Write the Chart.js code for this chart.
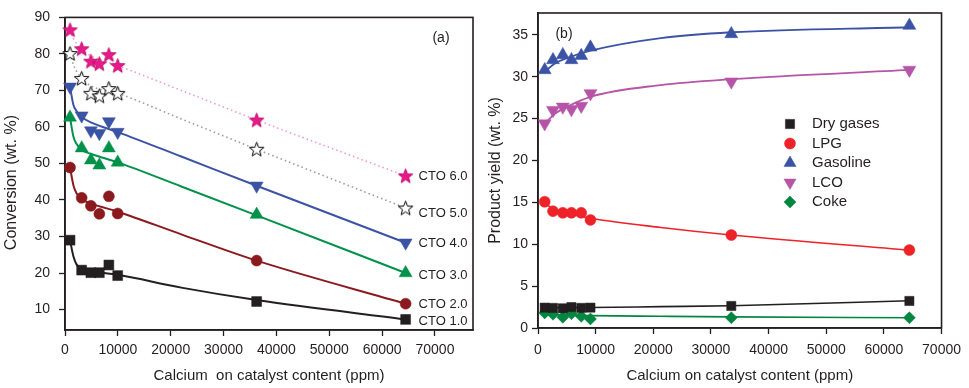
<!DOCTYPE html>
<html>
<head>
<meta charset="utf-8">
<script src="https://cdn.jsdelivr.net/npm/chart.js@4.4.1/dist/chart.umd.min.js"></script>
<style>
  html, body { margin: 0; padding: 0; background: #fff; }
  #wrap { position: relative; width: 969px; height: 388px; overflow: hidden; }
  canvas { position: absolute; top: 0; }
</style>
</head>
<body>
<div id="wrap">
  <canvas id="cA" width="484" height="388" style="left:0px"></canvas>
  <canvas id="cB" width="485" height="388" style="left:484px"></canvas>
</div>
<script>
// ---------------- Panel (a) data ----------------
const caA = [950, 3150, 4900, 6500, 8300, 9970, 36260, 64450];
const cto1 = [29.0, 20.8, 20.1, 20.1, 22.2, 19.3, 12.2, 7.3];
const cto2 = [48.9, 40.6, 38.4, 36.2, 41.0, 36.3, 23.4, 11.6];
const cto3 = [62.6, 54.2, 50.9, 49.5, 54.2, 50.3, 36.0, 20.0];
const cto4 = [71.0, 63.1, 59.0, 58.3, 61.5, 58.6, 43.9, 28.3];
const cto5 = [80.1, 73.3, 69.2, 68.5, 70.5, 69.2, 53.9, 37.8];
const cto6 = [86.6, 81.4, 78.0, 77.3, 79.8, 76.8, 61.9, 46.6];

// trend curves
const fitXA = [950, 1600, 2200, 3150, 5000, 10000, 22000, 36260, 64450];
const fit1 = [29.0, 24.5, 22.3, 21.2, 20.5, 19.5, 16.0, 12.6, 7.3];
const fit2 = [48.9, 44.0, 41.8, 40.2, 39.0, 36.8, 30.6, 23.4, 11.6];
const fit3 = [62.6, 57.3, 55.3, 53.7, 52.6, 50.3, 43.7, 35.8, 20.0];
const fit4 = [71.0, 66.0, 64.3, 62.7, 61.2, 58.6, 51.9, 43.9, 28.3];
const fit5 = [80.1, 77.0, 75.2, 73.3, 71.2, 69.2, 62.2, 53.9, 37.8];
const fit6 = [86.6, 84.2, 82.8, 81.2, 79.4, 76.8, 70.0, 61.9, 46.6];

const ctoLabels = ["CTO 1.0", "CTO 2.0", "CTO 3.0", "CTO 4.0", "CTO 5.0", "CTO 6.0"];
const ctoLabelValues = [6.8, 11.4, 19.3, 28.0, 36.4, 46.4];
const ticksYA = [10, 20, 30, 40, 50, 60, 70, 80, 90];
const ticksX = [0, 10000, 20000, 30000, 40000, 50000, 60000, 70000];

// ---------------- Panel (b) data ----------------
const caB = [1160, 2600, 4300, 5800, 7500, 9100, 33530, 64420];
const dryGases = [2.43, 2.40, 2.35, 2.50, 2.40, 2.43, 2.63, 3.23];
const lpg = [15.07, 13.95, 13.75, 13.75, 13.75, 12.9, 11.1, 9.3];
const gasoline = [30.8, 32.0, 32.6, 32.0, 32.5, 33.5, 35.1, 36.1];
const lco = [24.4, 26.0, 26.4, 26.1, 26.5, 28.0, 29.4, 30.8];
const coke = [1.80, 1.64, 1.28, 1.71, 1.40, 1.08, 1.23, 1.23];

const fitXB = [1160, 3000, 5000, 9100, 21300, 33530, 64420];
const fitDry = [2.40, 2.42, 2.43, 2.45, 2.55, 2.65, 3.25];
const fitLpg = [14.9, 14.1, 13.7, 13.1, 12.0, 11.1, 9.3];
const fitGas = [30.6, 31.6, 32.2, 33.1, 34.6, 35.3, 35.9];
const fitLco = [24.4, 25.6, 26.4, 27.6, 29.0, 29.7, 30.8];
const fitCoke = [1.60, 1.57, 1.54, 1.48, 1.40, 1.33, 1.22];

const seriesNamesB = ["Dry gases", "LPG", "Gasoline", "LCO", "Coke"];
const ticksYB = [0, 5, 10, 15, 20, 25, 30, 35];

// ---------------- styling ----------------
const FONT = "'Liberation Sans', Arial, sans-serif";
const INK = '#231F20';
const C_PINK = '#E8198B', C_BLUE = '#3A53A4', C_GREEN = '#00924A', C_DRED = '#8B1A1F';
const C_RED = '#EE2229', C_MAG = '#B654A8', C_COKE = '#00873F';

function zip(xs, ys) { return xs.map((x, i) => ({ x: x, y: ys[i] })); }

function starCanvas(fill, stroke) {
  const s = 17, c = document.createElement('canvas');
  c.width = s; c.height = s;
  const g = c.getContext('2d');
  const cx = s / 2, cy = s / 2 + 0.6, R = 7.6, r = 3.2;
  g.beginPath();
  for (let i = 0; i < 10; i++) {
    const a = -Math.PI / 2 + i * Math.PI / 5;
    const rr = i % 2 === 0 ? R : r;
    g.lineTo(cx + rr * Math.cos(a), cy + rr * Math.sin(a));
  }
  g.closePath();
  g.fillStyle = fill; g.fill();
  g.lineWidth = 1; g.strokeStyle = stroke; g.stroke();
  return c;
}
const starPink = starCanvas(C_PINK, '#C0106E');
const starWhite = starCanvas('#ffffff', '#000000');

const framePlugin = {
  id: 'frame',
  beforeDatasetsDraw(chart) {
    const a = chart.chartArea, ctx = chart.ctx;
    ctx.save();
    ctx.strokeStyle = INK; ctx.lineWidth = 1.6;
    ctx.strokeRect(a.left, a.top, a.right - a.left, a.bottom - a.top);
    ctx.restore();
  }
};

function dataSet(label, xs, ys, color, style, radius, extra) {
  return Object.assign({
    label: label, data: zip(xs, ys), showLine: false,
    pointStyle: style, pointRadius: radius, pointHoverRadius: radius,
    backgroundColor: color, borderColor: color, pointBorderWidth: 0.5,
    order: 0, clip: false
  }, extra || {});
}
function fitSet(xs, ys, color, width, dash) {
  return {
    label: '_fit', data: zip(xs, ys), showLine: true, pointRadius: 0,
    borderColor: color, borderWidth: width, borderDash: dash || [],
    cubicInterpolationMode: 'monotone', fill: false, order: 1, clip: false
  };
}

function axisCommon(fontSize) {
  return {
    grid: { display: true, drawOnChartArea: false, drawTicks: true, tickLength: 6, tickColor: INK, tickWidth: 1.3 },
    border: { display: true, color: INK, width: 1.6 },
    ticks: { color: INK, font: { family: FONT, size: fontSize }, callback: v => String(v) }
  };
}

// ---------------- Chart (a) ----------------
const labelPluginA = {
  id: 'labelsA',
  afterDatasetsDraw(chart) {
    const ctx = chart.ctx, xs = chart.scales.x, ys = chart.scales.y;
    ctx.save();
    ctx.fillStyle = INK;
    ctx.font = '13px ' + FONT;
    ctx.textBaseline = 'middle'; ctx.textAlign = 'left';
    const lx = xs.getPixelForValue(caA[caA.length - 1]) + 13;
    ctoLabels.forEach((t, i) => ctx.fillText(t, lx, ys.getPixelForValue(ctoLabelValues[i])));
    ctx.font = '14px ' + FONT; ctx.textAlign = 'center';
    ctx.fillText('(a)', chart.chartArea.right - 32, chart.chartArea.top + 21);
    ctx.restore();
  }
};

const axA = axisCommon(14);
const axAy = axisCommon(14);
new Chart(document.getElementById('cA'), {
  type: 'scatter',
  data: {
    datasets: [
      dataSet('CTO 6.0', caA, cto6, C_PINK, starPink, 7),
      dataSet('CTO 5.0', caA, cto5, '#fff', starWhite, 7),
      dataSet('CTO 4.0', caA, cto4, C_BLUE, 'triangle', 7.5, { rotation: 180 }),
      dataSet('CTO 3.0', caA, cto3, C_GREEN, 'triangle', 7.5),
      dataSet('CTO 2.0', caA, cto2, C_DRED, 'circle', 5.5),
      dataSet('CTO 1.0', caA, cto1, INK, 'rect', 7),
      fitSet(fitXA, fit6, '#F29AC8', 1.6, [1.5, 3]),
      fitSet(fitXA, fit5, '#9B9B9B', 1.6, [1.5, 3]),
      fitSet(fitXA, fit4, C_BLUE, 2),
      fitSet(fitXA, fit3, C_GREEN, 2),
      fitSet(fitXA, fit2, C_DRED, 2),
      fitSet(fitXA, fit1, INK, 2)
    ]
  },
  options: {
    responsive: false, animation: false, devicePixelRatio: 1,
    layout: { padding: { top: 13, right: 11, left: 0, bottom: 0 } },
    plugins: { legend: { display: false }, tooltip: { enabled: false } },
    scales: {
      x: Object.assign({}, axA, {
        type: 'linear', min: 0, max: 77200,
        afterBuildTicks: s => { s.ticks = ticksX.map(v => ({ value: v })); },
        afterFit: s => { s.height = 58; },
        ticks: Object.assign({}, axA.ticks, { padding: 6, maxRotation: 0, autoSkip: false }),
        title: { display: true, text: 'Calcium  on catalyst content (ppm)', color: INK,
                 font: { family: FONT, size: 15 }, padding: { top: 0, bottom: 3 } }
      }),
      y: Object.assign({}, axAy, {
        type: 'linear', min: 4.4, max: 90,
        afterBuildTicks: s => { s.ticks = ticksYA.map(v => ({ value: v })); },
        afterFit: s => { s.width = 65; },
        ticks: Object.assign({}, axAy.ticks, { padding: 9 }),
        title: { display: true, text: 'Conversion (wt. %)    ', color: INK,
                 font: { family: FONT, size: 16 }, padding: { top: 2, bottom: 2 } }
      })
    }
  },
  plugins: [framePlugin, labelPluginA]
});

// ---------------- Chart (b) ----------------
const legendB = [
  { name: seriesNamesB[0], style: 'rect', color: INK, r: 6.5, rot: 0 },
  { name: seriesNamesB[1], style: 'circle', color: C_RED, r: 5.5, rot: 0 },
  { name: seriesNamesB[2], style: 'triangle', color: C_BLUE, r: 7, rot: 0 },
  { name: seriesNamesB[3], style: 'triangle', color: C_MAG, r: 7, rot: 180 },
  { name: seriesNamesB[4], style: 'rectRot', color: C_COKE, r: 6, rot: 0 }
];
const legendPluginB = {
  id: 'legendB',
  afterDatasetsDraw(chart) {
    const ctx = chart.ctx, a = chart.chartArea;
    ctx.save();
    const mx = a.left + 252, tx = a.left + 274, y0 = a.top + 111, dy = 19.5;
    ctx.font = '15px ' + FONT; ctx.textBaseline = 'middle'; ctx.textAlign = 'left';
    legendB.forEach((it, i) => {
      const y = y0 + i * dy;
      ctx.fillStyle = it.color; ctx.strokeStyle = it.color; ctx.lineWidth = 0.5;
      if (Chart.helpers && Chart.helpers.drawPoint) {
        Chart.helpers.drawPoint(ctx, { pointStyle: it.style, radius: it.r, rotation: it.rot, borderWidth: 0.5 }, mx, y);
      }
      ctx.fillStyle = INK;
      ctx.fillText(it.name, tx, y);
    });
    ctx.font = '14px ' + FONT; ctx.textAlign = 'center';
    ctx.fillText('(b)', a.left + 26, a.top + 21);
    ctx.restore();
  }
};

const axB = axisCommon(14);
const axBy = axisCommon(14);
new Chart(document.getElementById('cB'), {
  type: 'scatter',
  data: {
    datasets: [
      dataSet(seriesNamesB[0], caB, dryGases, INK, 'rect', 6.5),
      dataSet(seriesNamesB[1], caB, lpg, C_RED, 'circle', 5.5),
      dataSet(seriesNamesB[2], caB, gasoline, C_BLUE, 'triangle', 7.5),
      dataSet(seriesNamesB[3], caB, lco, C_MAG, 'triangle', 7.5, { rotation: 180 }),
      dataSet(seriesNamesB[4], caB, coke, C_COKE, 'rectRot', 6),
      fitSet(fitXB, fitDry, INK, 1.6),
      fitSet(fitXB, fitLpg, C_RED, 1.6),
      fitSet(fitXB, fitGas, C_BLUE, 1.8),
      fitSet(fitXB, fitLco, C_MAG, 1.8),
      fitSet(fitXB, fitCoke, C_COKE, 1.6)
    ]
  },
  options: {
    responsive: false, animation: false, devicePixelRatio: 1,
    layout: { padding: { top: 13, right: 25, left: 0, bottom: 0 } },
    plugins: { legend: { display: false }, tooltip: { enabled: false } },
    scales: {
      x: Object.assign({}, axB, {
        type: 'linear', min: 0, max: 70000,
        afterBuildTicks: s => { s.ticks = ticksX.map(v => ({ value: v })); },
        afterFit: s => { s.height = 60; },
        ticks: Object.assign({}, axB.ticks, { padding: 8, maxRotation: 0, autoSkip: false }),
        title: { display: true, text: 'Calcium on catalyst content (ppm)', color: INK,
                 font: { family: FONT, size: 15 }, padding: { top: 0, bottom: 3 } }
      }),
      y: Object.assign({}, axBy, {
        type: 'linear', min: 0, max: 37.6,
        afterBuildTicks: s => { s.ticks = ticksYB.map(v => ({ value: v })); },
        afterFit: s => { s.width = 54; },
        ticks: Object.assign({}, axBy.ticks, { padding: 4 }),
        title: { display: true, text: 'Product yield (wt. %)', color: INK,
                 font: { family: FONT, size: 16 }, padding: { top: 2, bottom: 2 } }
      })
    }
  },
  plugins: [framePlugin, legendPluginB]
});
</script>
</body>
</html>
